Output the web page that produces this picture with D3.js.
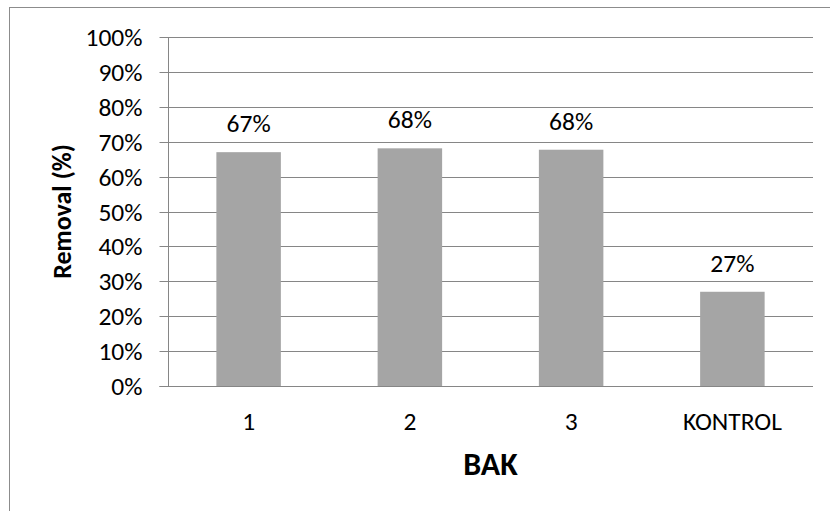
<!DOCTYPE html>
<html><head><meta charset="utf-8">
<script src="https://cdn.jsdelivr.net/npm/d3@7"></script>
<style>body{margin:0;background:#fff}svg{display:block}text{font-family:Carlito,Lato,"Open Sans",sans-serif;fill:#000}</style>
</head><body>
<svg id="c" width="830" height="511"></svg>
<script>
const categories = ["1", "2", "3", "KONTROL"];
const removal = [0.67, 0.681, 0.677, 0.27];
const labels = ["67%", "68%", "68%", "27%"];
const yTicks = [0, 0.1, 0.2, 0.3, 0.4, 0.5, 0.6, 0.7, 0.8, 0.9, 1.0];
const xTitle = "BAK";
const yTitle = "Removal (%)";

const svg = d3.select("#c");
const L = 168, R = 813, T = 37, B = 386;
const gridColor = "#868686";
const fs = "25.5px";

svg.append("rect").attr("x", 9.5).attr("y", 7.5).attr("width", 900).attr("height", 600)
  .attr("fill", "#fff").attr("stroke", "#8c8c8c").attr("stroke-width", 1);

const x = d3.scaleBand().domain(categories).range([L, R]).paddingInner(0.6).paddingOuter(0.3);
const y = d3.scaleLinear().domain([0, 1]).range([B, T]);

// gridlines
svg.append("g").selectAll("line").data(yTicks.filter(d => d > 0)).join("line")
  .attr("x1", L).attr("x2", R)
  .attr("y1", d => Math.round(y(d)) + 0.5).attr("y2", d => Math.round(y(d)) + 0.5)
  .attr("stroke", gridColor).attr("stroke-width", 1);

// bars
svg.append("g").selectAll("rect").data(removal).join("rect")
  .attr("x", (d, i) => x(categories[i]))
  .attr("width", x.bandwidth())
  .attr("y", d => y(d))
  .attr("height", d => B - y(d))
  .attr("fill", "#a5a5a5");

// y axis
const yAxis = d3.axisLeft(y).tickValues(yTicks).tickFormat(d3.format(".0%")).tickSize(9).tickPadding(17);
const gy = svg.append("g").attr("transform", `translate(${L + 0.5},0)`).call(yAxis);
gy.select(".domain").attr("stroke", gridColor).attr("d", `M-9,${B + 0.5}H0V${T}`);
gy.selectAll(".tick line").attr("stroke", gridColor);
gy.selectAll(".tick").attr("transform", d => `translate(0,${Math.round(y(d)) + 0.5})`);
gy.selectAll(".tick text").style("font-size", fs).attr("fill", "#000").attr("font-family", null);

// x axis baseline
const xAxis = d3.axisBottom(x).tickSize(0).tickPadding(25);
const gx = svg.append("g").attr("transform", `translate(0,${B + 0.5})`).call(xAxis);
gx.select(".domain").attr("stroke", gridColor).attr("d", `M${L},0H${R}`);
gx.selectAll(".tick text").style("font-size", fs).attr("fill", "#000").attr("font-family", null);

// data labels
svg.append("g").selectAll("text").data(removal).join("text")
  .attr("x", (d, i) => x(categories[i]) + x.bandwidth() / 2)
  .attr("y", d => y(d) - 20)
  .attr("text-anchor", "middle")
  .style("font-size", fs)
  .text((d, i) => labels[i]);

// titles
svg.append("text").attr("x", (L + R) / 2).attr("y", 475).attr("text-anchor", "middle")
  .style("font-size", "32px").style("font-weight", "bold").text(xTitle);
svg.append("text").attr("transform", `translate(71,${(T + B) / 2}) rotate(-90)`)
  .attr("text-anchor", "middle").style("font-size", "26px").style("font-weight", "bold").text(yTitle);
</script>
</body></html>
